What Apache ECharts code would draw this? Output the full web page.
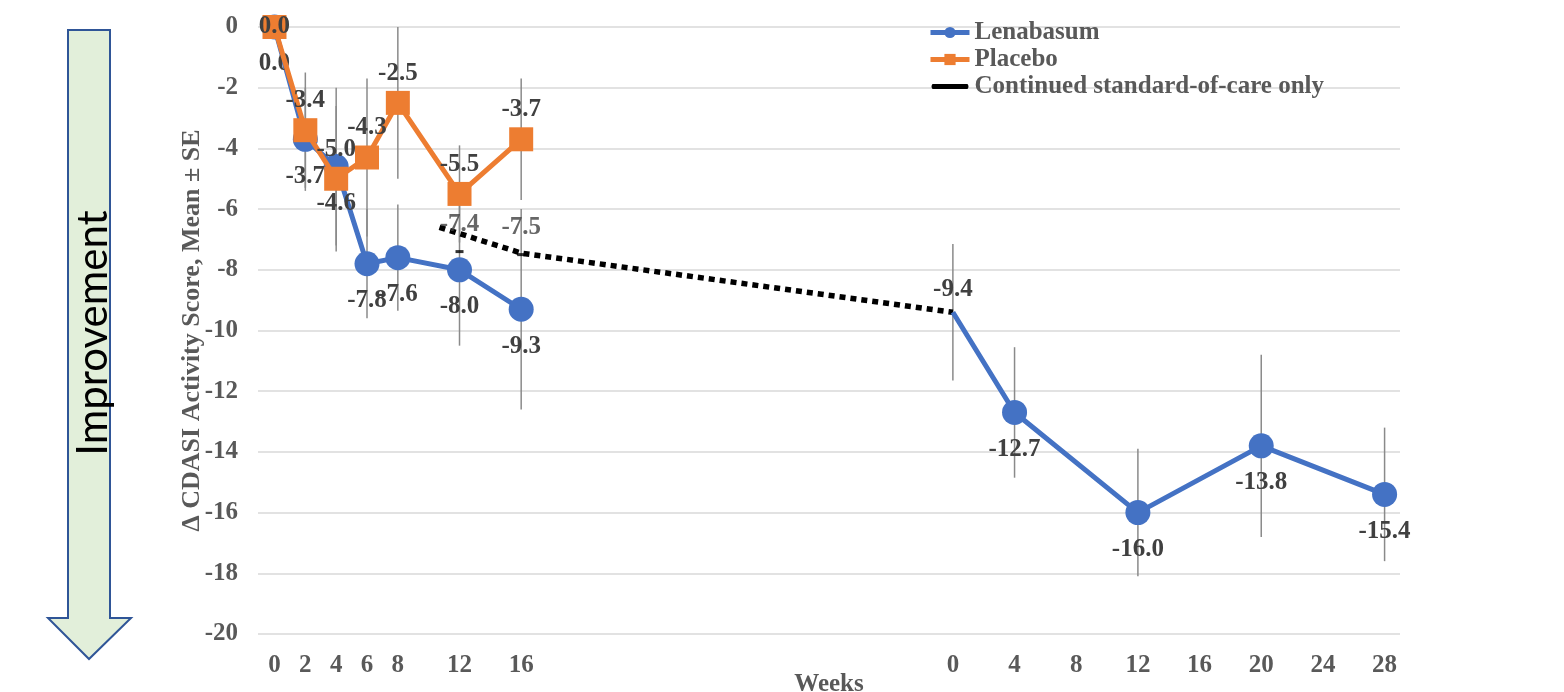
<!DOCTYPE html>
<html>
<head>
<meta charset="utf-8">
<script src="https://cdn.jsdelivr.net/npm/echarts@6/dist/echarts.min.js"></script>
<style>
  html, body { margin: 0; padding: 0; background: #ffffff; }
  #chart { width: 1564px; height: 692px; }
</style>
</head>
<body>
<div id="chart"></div>
<script>
// ---------- data ----------
const lenaWeeksA = [0, 2, 4, 6, 8, 12, 16];
const lenaValsA  = [0.0, -3.7, -4.6, -7.8, -7.6, -8.0, -9.3];
const lenaSEA    = [0, 1.7, 2.6, 1.8, 1.75, 2.5, 3.3];

// open-label extension: axis position 44 = extension week 0
const lenaWeeksB = [44, 48, 56, 64, 72];
const lenaValsB  = [-9.4, -12.7, -16.0, -13.8, -15.4];
const lenaSEB    = [2.25, 2.15, 2.1, 3.0, 2.2];

const placeboWeeks = [0, 2, 4, 6, 8, 12, 16];
const placeboVals  = [0.0, -3.4, -5.0, -4.3, -2.5, -5.5, -3.7];
const placeboSE    = [0, 1.9, 2.4, 2.6, 2.5, 1.6, 2.0];

const socLineWeeks = [10.7, 16, 44];
const socLineVals  = [-6.6, -7.45, -9.4];
const socWeeks = [12, 16];
const socVals  = [-7.4, -7.5];

const xTickValues = [0, 2, 4, 6, 8, 12, 16, 44, 48, 52, 56, 60, 64, 68, 72];
const xTickLabels = ['0', '2', '4', '6', '8', '12', '16', '0', '4', '8', '12', '16', '20', '24', '28'];

const legendNames = ['Lenabasum', 'Placebo', 'Continued standard-of-care only'];

// ---------- build ----------
const SERIF = "'Liberation Serif', 'Times New Roman', serif";
const BLUE = '#4472C4', ORANGE = '#ED7D31';
const pairs = (xs, ys) => xs.map((x, i) => [x, ys[i]]);

const errData = [];
lenaWeeksA.forEach((w, i) => { if (lenaSEA[i] > 0) errData.push([w, lenaValsA[i] - lenaSEA[i], lenaValsA[i] + lenaSEA[i]]); });
lenaWeeksB.forEach((w, i) => { if (lenaSEB[i] > 0) errData.push([w, lenaValsB[i] - lenaSEB[i], lenaValsB[i] + lenaSEB[i]]); });
placeboWeeks.forEach((w, i) => { if (placeboSE[i] > 0) errData.push([w, placeboVals[i] - placeboSE[i], placeboVals[i] + placeboSE[i]]); });

const labelStyle = {
  show: true, fontFamily: SERIF, fontWeight: 'bold', fontSize: 25, color: '#404040',
  formatter: p => Number(p.value[1]).toFixed(1)
};

const lenaBData = pairs(lenaWeeksB, lenaValsB).map((v, i) => i === 0
  ? { value: v, symbolSize: 0.5, label: { position: 'top', distance: 10 } }
  : { value: v });

const placeboData = pairs(placeboWeeks, placeboVals).map((v, i) => i === 0
  ? { value: v, label: { position: 'inside' } }
  : { value: v });

const chart = echarts.init(document.getElementById('chart'), null, { renderer: 'canvas' });

chart.setOption({
  backgroundColor: '#ffffff',
  animation: false,
  grid: { left: 258, top: 27, width: 1142, height: 607, outerBoundsMode: 'none', containLabel: false },
  legend: {
    orient: 'vertical', left: 928, top: 20, padding: 0, itemGap: 2,
    itemWidth: 39, itemHeight: 14,
    textStyle: { fontFamily: SERIF, fontWeight: 'bold', fontSize: 25, color: '#595959' },
    data: [
      { name: legendNames[0], lineStyle: { width: 5 } },
      { name: legendNames[1], lineStyle: { width: 5 } },
      { name: legendNames[2], icon: 'path://M0,0 M39,14 M2,4.5 L37,4.5 Q39,7 37,9.5 L2,9.5 Q0,7 2,4.5 Z',
        itemStyle: { color: '#000' } }
    ]
  },
  xAxis: {
    type: 'value', min: -1.07, max: 73,
    name: 'Weeks', nameLocation: 'middle', nameGap: 38, nameMoveOverlap: false,
    nameTextStyle: { fontFamily: SERIF, fontWeight: 'bold', fontSize: 25, color: '#595959' },
    axisLine: { show: false }, axisTick: { show: false }, splitLine: { show: false },
    axisLabel: {
      customValues: xTickValues, margin: 19,
      fontFamily: SERIF, fontWeight: 'bold', fontSize: 25, color: '#595959',
      formatter: v => { const i = xTickValues.indexOf(v); return i >= 0 ? xTickLabels[i] : ''; }
    }
  },
  yAxis: {
    type: 'value', min: -20, max: 0, interval: 2,
    name: 'Δ CDASI Activity Score, Mean ± SE', nameLocation: 'middle', nameGap: 53, nameRotate: 90,
    nameMoveOverlap: false,
    nameTextStyle: { fontFamily: SERIF, fontWeight: 'bold', fontSize: 26, color: '#595959' },
    axisLine: { show: false }, axisTick: { show: false },
    splitLine: { lineStyle: { color: '#d9d9d9', width: 1.5 } },
    axisLabel: { margin: 20, fontFamily: SERIF, fontWeight: 'bold', fontSize: 25, color: '#595959' }
  },
  series: [
    {
      type: 'custom', name: 'err', z: 1, silent: true,
      data: errData, encode: { x: 0, y: [1, 2] },
      renderItem: (params, api) => {
        const p1 = api.coord([api.value(0), api.value(1)]);
        const p2 = api.coord([api.value(0), api.value(2)]);
        return { type: 'line', shape: { x1: p1[0], y1: p1[1], x2: p2[0], y2: p2[1] },
                 style: { stroke: '#8a8a8a', lineWidth: 1.5 } };
      }
    },
    {
      type: 'line', name: legendNames[0], z: 3,
      data: pairs(lenaWeeksA, lenaValsA),
      symbol: 'circle', symbolSize: 25,
      itemStyle: { color: BLUE }, lineStyle: { color: BLUE, width: 5 },
      label: Object.assign({ position: 'bottom', distance: 12 }, labelStyle)
    },
    {
      type: 'line', name: legendNames[0], z: 3,
      data: lenaBData,
      symbol: 'circle', symbolSize: 25,
      itemStyle: { color: BLUE }, lineStyle: { color: BLUE, width: 5 },
      label: Object.assign({ position: 'bottom', distance: 12 }, labelStyle)
    },
    {
      type: 'line', name: legendNames[1], z: 4,
      data: placeboData,
      symbol: 'rect', symbolSize: 24,
      itemStyle: { color: ORANGE }, lineStyle: { color: ORANGE, width: 5 },
      label: Object.assign({ position: 'top', distance: 5 }, labelStyle)
    },
    {
      type: 'line', name: legendNames[2], z: 2,
      data: pairs(socLineWeeks, socLineVals),
      symbol: 'none',
      itemStyle: { color: '#000' },
      lineStyle: { color: '#000', width: 5.5, type: [6, 5], cap: 'butt' }
    },
    {
      type: 'scatter', name: 'soc-points', z: 2,
      data: pairs(socWeeks, socVals),
      symbol: 'rect', symbolSize: [8, 3],
      itemStyle: { color: '#000' },
      label: Object.assign({ position: 'top', distance: 13 }, labelStyle)
    }
  ],
  graphic: [
    {
      type: 'polygon', silent: true,
      shape: { points: [[68, 30], [110, 30], [110, 618], [131, 618], [89, 659], [48, 618], [68, 618]] },
      style: { fill: '#E2EFDA', stroke: '#2F5597', lineWidth: 2 }
    },
    {
      type: 'text', silent: true, x: 93, y: 333, rotation: Math.PI / 2,
      style: { text: 'Improvement', font: '42px Lato, "Noto Sans", sans-serif', fill: '#000',
               align: 'center', verticalAlign: 'middle' }
    }
  ]
});
</script>
</body>
</html>
